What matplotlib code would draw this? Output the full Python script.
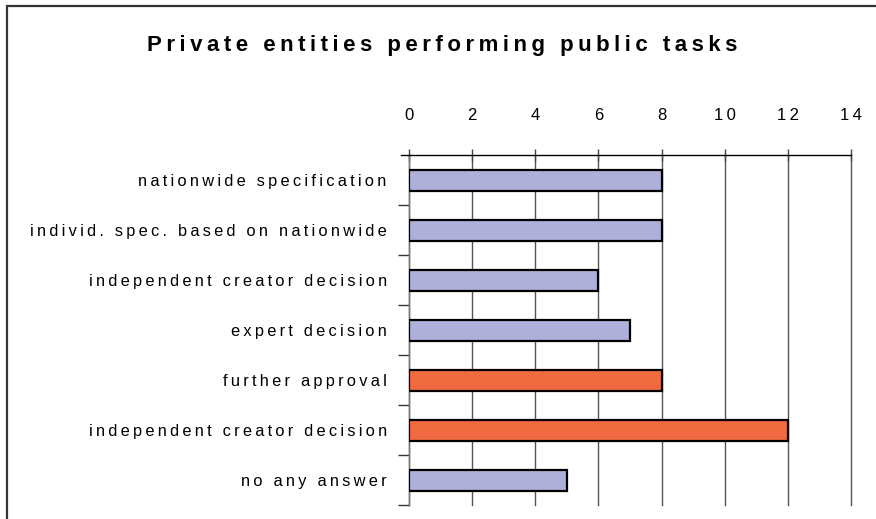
import matplotlib
matplotlib.use("Agg")
import matplotlib.pyplot as plt
from matplotlib.patches import Rectangle
from matplotlib.ticker import FixedLocator

categories = [
    "nationwide specification",
    "individ. spec. based on nationwide",
    "independent creator decision",
    "expert decision",
    "further approval",
    "independent creator decision",
    "no any answer",
]
values = [8, 8, 6, 7, 8, 12, 5]
groups = ["a", "a", "a", "a", "b", "b", "a"]
group_colors = {"a": "#AFB0D9", "b": "#F26A40"}
xticks = [0, 2, 4, 6, 8, 10, 12, 14]
title = "Private entities performing public tasks"

FAM = ["Liberation Sans", "DejaVu Sans"]
plt.rcParams["font.family"] = FAM

def spaced(s, sep="\u2009"):
    return sep.join(list(s))

W, H = 876, 519
fig = plt.figure(figsize=(W / 100, H / 100), dpi=100)

# figure border (left and top visible)
fig.patches.append(Rectangle((7 / W, -0.05), 1.2, 1 - 6 / H + 0.05,
                             transform=fig.transFigure, fill=False,
                             edgecolor="#333333", linewidth=1.6, zorder=0))

ax = fig.add_axes([409 / W, 1 - 505 / H, (851 - 409) / W, (505 - 155) / H])

ypos = list(range(len(categories)))
ax.barh(ypos, values, height=0.42,
        color=[group_colors[g] for g in groups],
        edgecolor="black", linewidth=1.6, zorder=3)

ax.set_xlim(0, 14)
ax.set_ylim(len(categories) - 0.5, -0.5)

ax.xaxis.tick_top()
ax.set_xticks(xticks)
ax.set_xticklabels([spaced(str(t)) for t in xticks], fontsize=12)
ax.tick_params(axis="x", direction="inout", length=8, width=1,
               color="#444444", pad=19)
ax.grid(axis="x", color="#555555", linewidth=1, zorder=1)
for gl in ax.get_xgridlines():
    gl.set_clip_on(False)

ax.set_yticks(ypos)
ax.set_yticklabels([spaced(c) for c in categories], fontsize=11.75)
ax.tick_params(axis="y", which="major", length=0, pad=16)
ax.yaxis.set_minor_locator(FixedLocator([i + 0.5 for i in range(len(categories))]))
ax.tick_params(axis="y", which="minor", length=8, width=1, color="#333333")

for s in ["right", "bottom"]:
    ax.spines[s].set_visible(False)
ax.spines["top"].set_color("black")
ax.spines["top"].set_linewidth(1)
ax.spines["left"].set_color("#777777")
ax.spines["left"].set_linewidth(1)

# top spine extension to the left (as in reference)
ax.plot([-8 / (851 - 409) * 14, 0], [-0.5, -0.5], color="black", lw=1,
        clip_on=False, zorder=4)

fig.text(442 / W, 1 - 46 / H, spaced(title), ha="center", va="center",
         fontsize=16, fontweight="bold")

fig.savefig("out.png", dpi=100)
